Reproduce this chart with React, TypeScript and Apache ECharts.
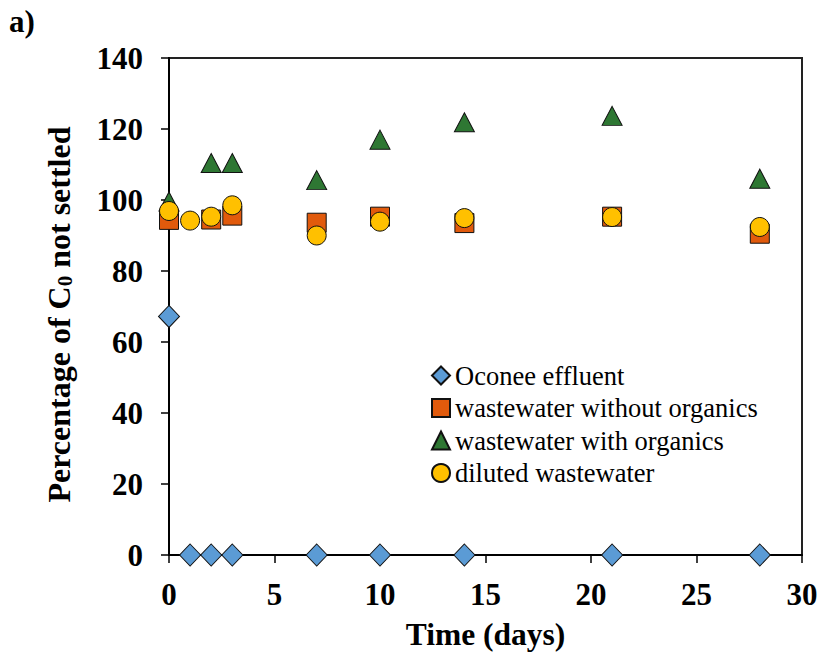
import React, { useEffect, useRef } from "react";
import * as echarts from "echarts";

const oconeeDays = [0, 1, 2, 3, 7, 10, 14, 21, 28];
const oconeeValues = [67.2, 0, 0, 0, 0, 0, 0, 0, 0];

const withoutOrgDays = [0, 2, 3, 7, 10, 14, 21, 28];
const withoutOrgValues = [94.4, 94.5, 95.6, 93.6, 95.3, 93.5, 95.3, 90.5];

const withOrgDays = [0, 2, 3, 7, 10, 14, 21, 28];
const withOrgValues = [99.6, 110.4, 110.4, 105.6, 117, 121.9, 123.7, 106.0];

const dilutedDays = [0, 1, 2, 3, 7, 10, 14, 21, 28];
const dilutedValues = [96.9, 94.2, 95.3, 98.5, 90.0, 93.9, 94.9, 95.2, 92.4];

const FONT = "Liberation Serif";

function pairs(xs: number[], ys: number[]) {
  return xs.map((x, i) => [x, ys[i]]);
}

export default function App() {
  const ref = useRef<HTMLDivElement>(null);
  useEffect(() => {
    if (!ref.current) return;
    const chart = echarts.init(ref.current, null, { renderer: "svg" });
    const itemBorder = { borderColor: "#111", borderWidth: 1, opacity: 1 };
    chart.setOption({
      animation: false,
      backgroundColor: "#fff",
      textStyle: { fontFamily: FONT },
      grid: {
        left: 169,
        right: 22,
        top: 58,
        bottom: 106,
        show: true,
        borderColor: "#222",
        borderWidth: 2,
      },
      graphic: [
        {
          type: "text",
          left: 9,
          top: 6,
          style: {
            text: "a)",
            font: `bold 31px ${FONT}`,
            fill: "#000",
          },
        },
      ],
      legend: {
        orient: "vertical",
        left: 426,
        top: 357,
        itemWidth: 18,
        itemHeight: 18,
        itemGap: 5.5,
        data: [
          "Oconee effluent",
          "wastewater without organics",
          "wastewater with organics",
          "diluted wastewater",
        ],
        textStyle: {
          fontFamily: FONT,
          fontWeight: "normal",
          fontSize: 26.5,
          color: "#000",
          lineHeight: 25,
        },
      },
      xAxis: {
        type: "value",
        min: 0,
        max: 30,
        interval: 5,
        name: "Time (days)",
        nameLocation: "middle",
        nameGap: 63,
        nameTextStyle: {
          fontFamily: FONT,
          fontWeight: "bold",
          fontSize: 31.5,
          color: "#000",
        },
        axisLine: { lineStyle: { color: "#000", width: 2 } },
        axisTick: { show: true, inside: false, length: 8, lineStyle: { color: "#000", width: 1.5 } },
        axisLabel: {
          fontFamily: FONT,
          fontWeight: "bold",
          fontSize: 31,
          color: "#000",
          margin: 24,
        },
        splitLine: { show: false },
      },
      yAxis: {
        type: "value",
        min: 0,
        max: 140,
        interval: 20,
        name: "{a|Percentage of C}{s|0}{a| not settled}",
        nameLocation: "middle",
        nameGap: 94,
        nameTextStyle: {
          fontFamily: FONT,
          fontWeight: "bold",
          fontSize: 32,
          color: "#000",
          padding: [0, 16, 0, 0],
          rich: {
            a: { fontFamily: FONT, fontWeight: "bold", fontSize: 32, color: "#000" },
            s: {
              fontFamily: FONT,
              fontWeight: "bold",
              fontSize: 21,
              color: "#000",
              verticalAlign: "bottom",
              padding: [12, 0, 0, 0],
            },
          },
        },
        axisLine: { show: true, lineStyle: { color: "#000", width: 2 } },
        axisTick: { show: true, inside: false, length: 8, lineStyle: { color: "#000", width: 1.5 } },
        axisLabel: {
          fontFamily: FONT,
          fontWeight: "bold",
          fontSize: 31,
          color: "#000",
          margin: 26,
        },
        splitLine: { show: false },
      },
      series: [
        {
          name: "Oconee effluent",
          type: "scatter",
          symbol: "diamond",
          symbolSize: [21, 22],
          z: 2,
          itemStyle: { color: "#5B9BD5", ...itemBorder },
          data: pairs(oconeeDays, oconeeValues),
        },
        {
          name: "wastewater without organics",
          type: "scatter",
          symbol: "rect",
          symbolSize: 19,
          z: 4,
          itemStyle: { color: "#E15A0C", ...itemBorder },
          data: pairs(withoutOrgDays, withoutOrgValues),
        },
        {
          name: "wastewater with organics",
          type: "scatter",
          symbol: "triangle",
          symbolSize: [20, 19],
          z: 3,
          itemStyle: { color: "#2E7733", ...itemBorder },
          data: pairs(withOrgDays, withOrgValues),
        },
        {
          name: "diluted wastewater",
          type: "scatter",
          symbol: "circle",
          symbolSize: 19,
          z: 5,
          itemStyle: { color: "#FFC000", ...itemBorder },
          data: pairs(dilutedDays, dilutedValues),
        },
      ],
    });
    return () => chart.dispose();
  }, []);
  return <div ref={ref} style={{ width: 824, height: 661, position: "absolute", left: 0, top: 0 }} />;
}
